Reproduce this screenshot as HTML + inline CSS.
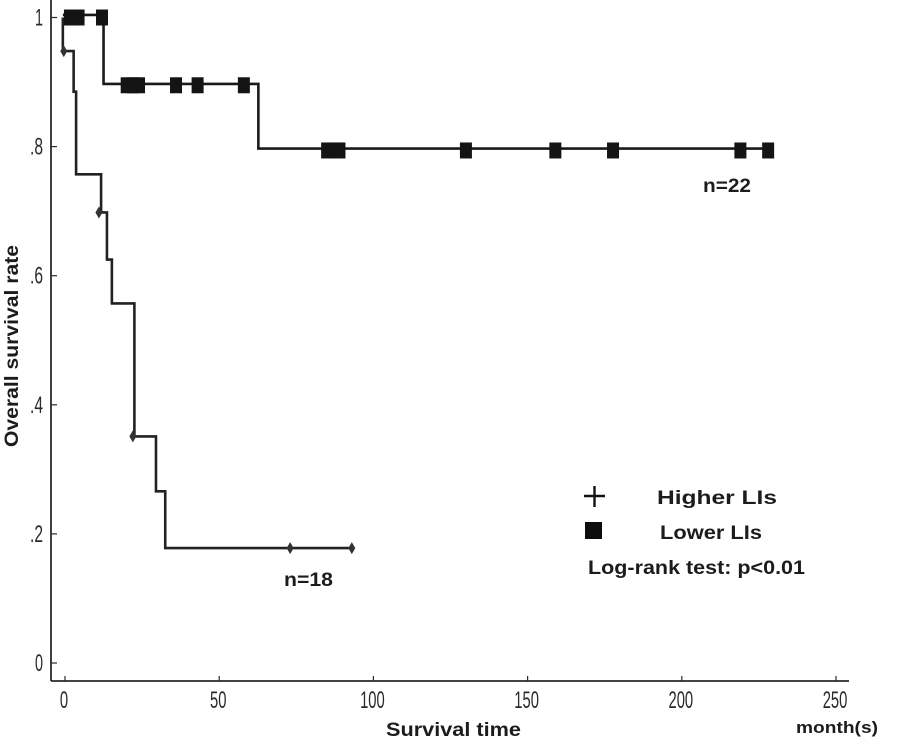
<!DOCTYPE html>
<html lang="en">
<head>
<meta charset="utf-8">
<title>Overall survival rate</title>
<style>
html,body{margin:0;padding:0;background:#fff;}
#chart{display:block;width:901px;height:744px;}
text{font-family:"Liberation Sans",sans-serif;fill:#1c1c1c;}
.tick{font-size:24px;fill:#2a2a2a;}
.bold{font-weight:bold;}
</style>
</head>
<body>
<svg id="chart" xmlns="http://www.w3.org/2000/svg" width="901" height="744" viewBox="0 0 901 744">
<g id="axes"></g>
<g id="series"></g>
<text class="bold" transform="translate(18,447) rotate(-90)" font-size="19" textLength="202" lengthAdjust="spacingAndGlyphs">Overall survival rate</text>
<text class="bold" x="386" y="736" font-size="19" textLength="135" lengthAdjust="spacingAndGlyphs">Survival time</text>
<text class="bold" x="796" y="733" font-size="17" textLength="82" lengthAdjust="spacingAndGlyphs">month(s)</text>
<text class="bold" x="703" y="192" font-size="19" textLength="48" lengthAdjust="spacingAndGlyphs">n=22</text>
<text class="bold" x="284" y="586" font-size="19" textLength="49" lengthAdjust="spacingAndGlyphs">n=18</text>
<g>
<path d="M584 496H605M594.5 486V507" stroke="#111" stroke-width="2.4" fill="none"/>
<rect x="585" y="522" width="17" height="17" fill="#0d0d0d"/>
<text class="bold" x="657" y="504" font-size="19" textLength="120" lengthAdjust="spacingAndGlyphs">Higher LIs</text>
<text class="bold" x="660" y="539" font-size="19" textLength="102" lengthAdjust="spacingAndGlyphs">Lower LIs</text>
<text class="bold" x="588" y="574" font-size="19" textLength="217" lengthAdjust="spacingAndGlyphs">Log-rank test: p&lt;0.01</text>
</g>
</svg>
<script>
var xTicks = [0, 50, 100, 150, 200, 250];
var xTickLabels = ["0", "50", "100", "150", "200", "250"];
var yTicks = [0, 0.2, 0.4, 0.6, 0.8, 1];
var yTickLabels = ["0", ".2", ".4", ".6", ".8", "1"];

var higherTimes = [-0.7, -0.7, 2.8, 3.6, 11.7, 13.6, 15.2, 22.5, 29.5, 32.5, 93];
var higherRates = [1.0, 0.948, 0.885, 0.757, 0.698, 0.625, 0.557, 0.351, 0.266, 0.178, 0.178];
var higherCensorTimes = [-0.4, 11, 22, 73, 93];
var higherCensorRates = [0.948, 0.698, 0.351, 0.178, 0.178];

var lowerTimes = [-0.7, 12.5, 62.7, 228];
var lowerRates = [1.004, 0.897, 0.797, 0.797];
var lowerCensorTimes = [1.6, 3, 4.4, 12, 20, 22, 24, 36, 43, 58, 85, 87, 89, 130, 159, 177.7, 219, 228];
var lowerCensorRates = [1, 1, 1, 1, 0.895, 0.895, 0.895, 0.895, 0.895, 0.895, 0.794, 0.794, 0.794, 0.794, 0.794, 0.794, 0.794, 0.794];

function xScale(t) { return 65 + t * 3.084; }
function yScale(v) { return 663 - v * 645.5; }

var NS = "http://www.w3.org/2000/svg";
var axes = document.getElementById("axes");
var series = document.getElementById("series");

function make(tag, attrs, parent) {
  var el = document.createElementNS(NS, tag);
  for (var k in attrs) { el.setAttribute(k, attrs[k]); }
  parent.appendChild(el);
  return el;
}

var yAxisLine = make("path", { d: "M51 0V681", stroke: "#2a2a2a", "stroke-width": 1.8, fill: "none" }, axes);



var xAxisLine = make("path", { d: "M51 681H849", stroke: "#2a2a2a", "stroke-width": 1.8, fill: "none" }, axes);



xTicks.forEach(function (t, i) {
  var x = xScale(t);
  var tick = make("path", { d: "M" + x + " 676V681", stroke: "#2a2a2a", "stroke-width": 1.2, fill: "none" }, axes);
  
  
  var label = make("text", { "class": "tick", x: x - 1, y: 708, "text-anchor": "middle", textLength: xTickLabels[i].length * 8.2, lengthAdjust: "spacingAndGlyphs" }, axes);
  label.textContent = xTickLabels[i];
  
  
});

yTicks.forEach(function (v, i) {
  var y = yScale(v);
  var tick = make("path", { d: "M51 " + y + "H57", stroke: "#2a2a2a", "stroke-width": 1.2, fill: "none" }, axes);
  
  
  var text = yTickLabels[i];
  var label = make("text", { "class": "tick", x: 43, y: y + 8, "text-anchor": "end", textLength: text.length === 1 ? 8 : 13, lengthAdjust: "spacingAndGlyphs" }, axes);
  label.textContent = text;
  
  
});

function stepPath(ts, vs) {
  var d = "M" + xScale(ts[0]) + " " + yScale(vs[0]);
  for (var i = 1; i < ts.length; i++) {
    d += "H" + xScale(ts[i]) + "V" + yScale(vs[i]);
  }
  return d;
}

var lowerLine = make("path", { d: stepPath(lowerTimes, lowerRates), stroke: "#1a1a1a", "stroke-width": 2.6, fill: "none" }, series);



var higherLine = make("path", { d: stepPath(higherTimes, higherRates), stroke: "#222", "stroke-width": 2.6, fill: "none" }, series);



lowerCensorTimes.forEach(function (t, i) {
  var square = make("rect", { x: xScale(t) - 6, y: yScale(lowerCensorRates[i]) - 8, width: 12, height: 16, fill: "#141414" }, series);
  
  
});

higherCensorTimes.forEach(function (t, i) {
  var x = xScale(t), y = yScale(higherCensorRates[i]);
  var mark = make("path", { d: "M" + (x - 3.5) + " " + y + "L" + x + " " + (y - 6) + "L" + (x + 3.5) + " " + y + "L" + x + " " + (y + 6) + "Z", fill: "#333" }, series);
  
  
});
</script>
</body>
</html>
